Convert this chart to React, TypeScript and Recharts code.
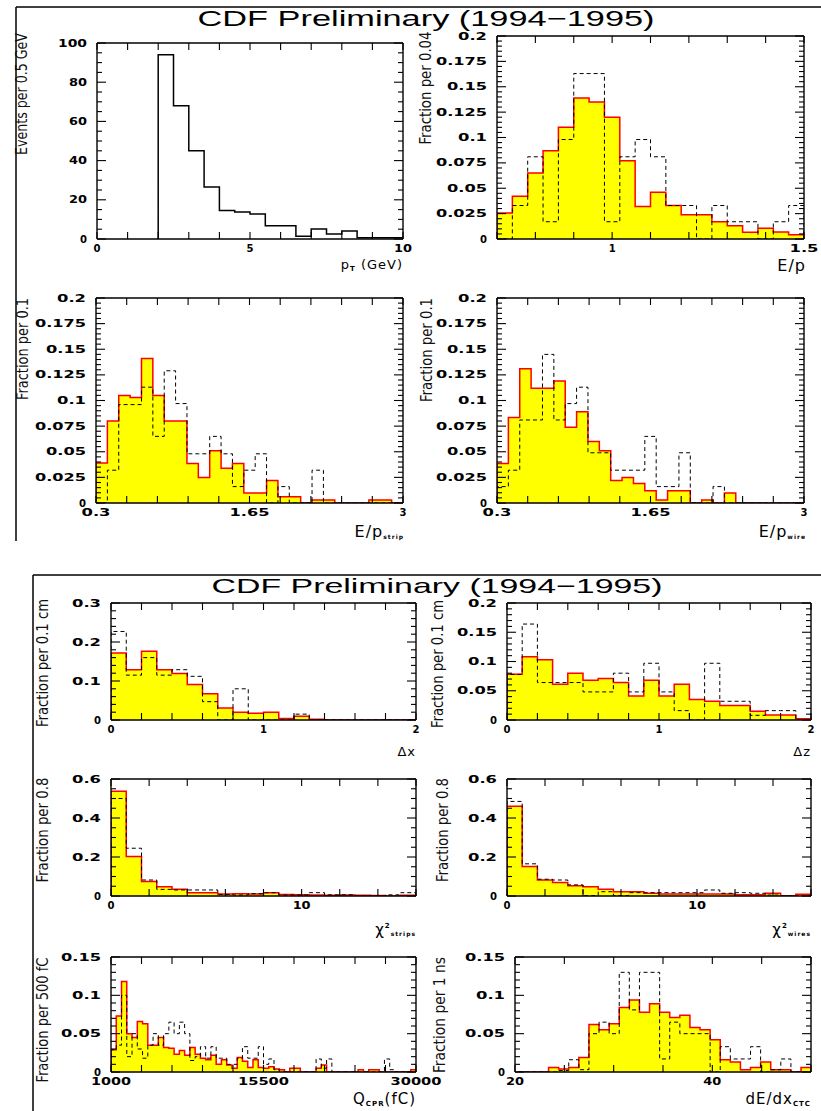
import React from "react";
import { ComposedChart, Area, Line, XAxis, YAxis } from "recharts";

// ---------------- data ----------------
// pT spectrum (events per 0.5 GeV)
const PT_START = 2;
const PT_BIN = 0.5;
const ptEvents = [94, 68, 45, 26.5, 14.6, 13.8, 12.8, 6.8, 6.8, 1.4, 5.1, 2.6, 4.1, 0.7, 0.7, 0.7];
const PT_X_TICKS = [0, 1, 2, 3, 4, 5, 6, 7, 8, 9, 10];
const PT_X_LABELS = ["0", "5", "10"];
const PT_Y_LABELS = ["0", "20", "40", "60", "80", "100"];

// E/p (fraction per 0.04)
const EP_START = 0.7;
const EP_BIN = 0.04;
const epFill = [0.0256, 0.042, 0.065, 0.087, 0.11, 0.139, 0.135, 0.12, 0.077, 0.032, 0.046, 0.033, 0.024, 0.024, 0.017, 0.013, 0.0066, 0.0105, 0.0069, 0.0043];
const epDash = [0, 0.033, 0.081, 0.017, 0.098, 0.163, 0.163, 0.017, 0.081, 0.098, 0.081, 0.033, 0.033, 0, 0.033, 0.017, 0.017, 0, 0.017, 0.033];
const EP_X_TICKS = [0.7, 0.8, 0.9, 1.0, 1.1, 1.2, 1.3, 1.4, 1.5];
const EP_X_LABELS = ["1", "1.5"];
const FRAC02_Y_LABELS = ["0", "0.025", "0.05", "0.075", "0.1", "0.125", "0.15", "0.175", "0.2"];

// E/p strip and wire (fraction per 0.1)
const EPS_START = 0.3;
const EPS_BIN = 0.1;
const stripFill = [0.039, 0.08, 0.105, 0.103, 0.141, 0.105, 0.08, 0.08, 0.0385, 0.025, 0.051, 0.034, 0.0385, 0.0098, 0.0098, 0.022, 0.006, 0.006, 0, 0.003, 0.003, 0, 0, 0, 0.003, 0.003, 0];
const stripDash = [0, 0.032, 0.096, 0.096, 0.113, 0.065, 0.129, 0.097, 0.048, 0.048, 0.065, 0.048, 0.016, 0.032, 0.048, 0, 0.016, 0, 0, 0.032, 0, 0, 0, 0, 0, 0, 0];
const wireFill = [0.0385, 0.0835, 0.131, 0.112, 0.112, 0.119, 0.074, 0.089, 0.06, 0.051, 0.022, 0.025, 0.019, 0.012, 0.003, 0.012, 0.012, 0, 0.003, 0, 0.0098, 0, 0, 0, 0, 0, 0];
const wireDash = [0.016, 0.032, 0.081, 0.081, 0.145, 0.081, 0.097, 0.113, 0.049, 0.049, 0.032, 0.032, 0.032, 0.065, 0.016, 0.016, 0.049, 0, 0, 0.016, 0, 0, 0, 0, 0, 0, 0];
const EPS_X_TICKS = [0.3, 0.57, 0.84, 1.11, 1.38, 1.65, 1.92, 2.19, 2.46, 2.73, 3];
const EPS_X_LABELS = ["0.3", "1.65", "3"];

// delta x / delta z (fraction per 0.1 cm)
const D_START = 0;
const D_BIN = 0.1;
const dxFill = [0.172, 0.129, 0.176, 0.129, 0.119, 0.091, 0.067, 0.031, 0.02, 0.017, 0.02, 0.004, 0.0095, 0.002, 0, 0, 0, 0, 0, 0];
const dxDash = [0.227, 0.115, 0.16, 0.115, 0.129, 0.112, 0.047, 0, 0.08, 0, 0, 0, 0.015, 0, 0, 0, 0, 0, 0, 0];
const dzFill = [0.078, 0.108, 0.103, 0.061, 0.08, 0.068, 0.071, 0.064, 0.041, 0.068, 0.041, 0.061, 0.035, 0.032, 0.025, 0.025, 0.015, 0.0086, 0.0086, 0.002];
const dzDash = [0.078, 0.164, 0.064, 0.064, 0.064, 0.048, 0.048, 0.08, 0.048, 0.097, 0.048, 0.016, 0, 0.097, 0.032, 0.032, 0.008, 0.016, 0.016, 0];
const D_X_TICKS = [0, 0.2, 0.4, 0.6, 0.8, 1, 1.2, 1.4, 1.6, 1.8, 2];
const D_X_LABELS = ["0", "1", "2"];
const DX_Y_LABELS = ["0", "0.1", "0.2", "0.3"];
const DZ_Y_LABELS = ["0", "0.05", "0.1", "0.15", "0.2"];

// chi2 strips / wires (fraction per 0.8)
const C_START = 0;
const C_BIN = 0.8;
const csFill = [0.537, 0.202, 0.074, 0.048, 0.034, 0.017, 0.017, 0.01, 0.012, 0.01, 0.017, 0.008, 0.007, 0.005, 0.004, 0.005, 0.004, 0.002, 0, 0.004];
const csDash = [0.5, 0.245, 0.082, 0.034, 0.031, 0.031, 0.031, 0.008, 0.005, 0.012, 0.017, 0.005, 0.005, 0.017, 0.006, 0.006, 0.001, 0, 0.006, 0.017];
const cwFill = [0.46, 0.151, 0.082, 0.069, 0.053, 0.048, 0.034, 0.022, 0.022, 0.014, 0.01, 0.01, 0.01, 0.01, 0.01, 0.007, 0.007, 0.014, 0.001, 0.009];
const cwDash = [0.485, 0.165, 0.086, 0.082, 0.057, 0.002, 0.022, 0.002, 0.017, 0.017, 0.017, 0.017, 0.017, 0.031, 0.014, 0.017, 0.014, 0.005, 0, 0];
const C_X_TICKS = [0, 2, 4, 6, 8, 10, 12, 14, 16];
const C_X_LABELS = ["0", "10"];
const C_Y_LABELS = ["0", "0.2", "0.4", "0.6"];

// Q_CPR (fraction per 500 fC)
const Q_START = 1000;
const Q_BIN = 500;
const qFill = [0.029, 0.073, 0.118, 0.05, 0.045, 0.066, 0.063, 0.035, 0.035, 0.045, 0.032, 0.031, 0.023, 0.028, 0.022, 0.032, 0.023, 0.018, 0.016, 0.022, 0.01, 0.016, 0.009, 0.005, 0.019, 0.014, 0.006, 0.016, 0.006, 0.005, 0.007, 0.004, 0.003, 0, 0.005, 0.005, 0, 0, 0, 0.005, 0.009, 0, 0, 0, 0, 0, 0, 0.003, 0, 0.003, 0.003, 0, 0, 0, 0, 0, 0, 0.003];
const qDash = [0.029, 0.035, 0.1, 0.02, 0.05, 0.03, 0.018, 0.035, 0.05, 0.035, 0.05, 0.065, 0.05, 0.065, 0.05, 0.015, 0.02, 0.033, 0.018, 0.033, 0.018, 0.018, 0.01, 0.01, 0.018, 0.033, 0.018, 0.018, 0.033, 0.01, 0.017, 0.003, 0, 0, 0, 0, 0, 0, 0, 0.017, 0.005, 0.017, 0, 0, 0, 0, 0, 0, 0, 0, 0, 0, 0.017, 0.003, 0, 0, 0, 0];
const Q_X_TICKS = [1000, 3900, 6800, 9700, 12600, 15500, 18400, 21300, 24200, 27100, 30000];
const Q_X_LABELS = ["1000", "15500", "30000"];
const Q_Y_LABELS = ["0", "0.05", "0.1", "0.15"];

// dE/dx CTC (fraction per 1 ns)
const DE_START = 20.33;
const DE_BIN = 1.0235;
const deFill = [0, 0, 0, 0.006, 0.004, 0.006, 0.019, 0.062, 0.055, 0.063, 0.084, 0.094, 0.078, 0.089, 0.078, 0.071, 0.074, 0.058, 0.055, 0.042, 0.016, 0.013, 0.003, 0.006, 0.013, 0.003, 0.003, 0, 0.006];
const deDash = [0, 0, 0, 0, 0.002, 0.016, 0.003, 0.05, 0.065, 0.05, 0.13, 0.081, 0.13, 0.13, 0.017, 0.065, 0.05, 0.05, 0.05, 0, 0.033, 0.017, 0.017, 0.033, 0, 0.003, 0.017, 0, 0];
const DE_X_TICKS = [20, 25, 30, 35, 40, 45, 50];
const DE_X_LABELS = ["20", "40"];

// ---------------- helpers ----------------
type Pt = { x: number; a: number; b: number };

function buildSteps(start: number, width: number, fill: number[], dash: number[] | null): Pt[] {
  const n = fill.length;
  const d = dash || fill.map(() => 0);
  const pts: Pt[] = [{ x: start, a: 0, b: 0 }];
  for (let i = 0; i < n; i++) pts.push({ x: start + i * width, a: fill[i], b: d[i] });
  pts.push({ x: start + n * width, a: fill[n - 1], b: d[n - 1] });
  pts.push({ x: start + n * width, a: 0, b: 0 });
  return pts;
}

function ticksFrom(domain: [number, number], step: number): number[] {
  const out: number[] = [];
  const n = Math.round((domain[1] - domain[0]) / step);
  for (let i = 0; i <= n; i++) out.push(Number((domain[0] + i * step).toFixed(6)));
  return out;
}

const near = (a: number, b: number) => Math.abs(a - b) < 1e-6 * Math.max(1, Math.abs(a), Math.abs(b));

const TICK_FONT = "DejaVu Sans";

function tickRenderer(side: string, majors: number[], labels: string[] | null, majorLen: number, minorLen: number) {
  return (p: any) => {
    const v = Number(p.payload && p.payload.value);
    const idx = majors.findIndex((m) => near(m, v));
    const len = idx >= 0 ? majorLen : minorLen;
    const x = p.x;
    const y = p.y;
    let x2 = x;
    let y2 = y;
    if (side === "bottom") y2 = y - len;
    if (side === "top") y2 = y + len;
    if (side === "left") x2 = x + len;
    if (side === "right") x2 = x - len;
    const label = labels && idx >= 0 ? labels[idx] : null;
    let text = null;
    if (label) {
      const tl = 11 * label.length - 4;
      if (side === "bottom") {
        text = (
          <text x={x} y={y + 13} textAnchor="middle" fontFamily={TICK_FONT} fontWeight={700} fontSize={10} fill="#000" textLength={tl} lengthAdjust="spacingAndGlyphs">
            {label}
          </text>
        );
      } else if (side === "left") {
        text = (
          <text x={x - 10} y={y + 3.6} textAnchor="end" fontFamily={TICK_FONT} fontWeight={700} fontSize={10} fill="#000" textLength={tl} lengthAdjust="spacingAndGlyphs">
            {label}
          </text>
        );
      }
    }
    return (
      <g>
        <line x1={x} y1={y} x2={x2} y2={y2} stroke="#000" strokeWidth={1.1} />
        {text}
      </g>
    );
  };
}

const AXIS_STYLE = { stroke: "#000", strokeWidth: 1.4 };

type HistProps = {
  L: number; T: number; R: number; B: number;
  xDomain: [number, number]; yDomain: [number, number];
  xTicks: number[]; xLabels: string[];
  yLabels: string[]; yMinor: number;
  data: Pt[]; filled: boolean;
};

function Hist(props: HistProps) {
  const { L, T, R, B, xDomain, yDomain, xTicks, xLabels, yLabels, yMinor, data, filled } = props;
  const mL = 70, mR = 30, mT = 6, mB = 22;
  const W = R - L + mL + mR + 2;
  const H = B - T + mT + mB + 2;
  const yMajors = yLabels.map(Number);
  const yTicks = ticksFrom(yDomain, yMinor);
  const xMajors = xLabels.map(Number);
  return (
    <div style={{ position: "absolute", left: L - mL - 1, top: T - mT - 1, width: W, height: H }}>
      <ComposedChart width={W} height={H} data={data} margin={{ top: mT, right: mR, bottom: mB, left: mL }}>
        {filled ? (
          <Area type="stepAfter" dataKey="a" stroke="#ff0000" strokeWidth={1.5} fill="#ffff00" fillOpacity={1} dot={false} activeDot={false} isAnimationActive={false} />
        ) : null}
        {filled ? (
          <Line type="stepAfter" dataKey="b" stroke="#000" strokeWidth={1} strokeDasharray="4 3" dot={false} activeDot={false} isAnimationActive={false} />
        ) : (
          <Line type="stepAfter" dataKey="a" stroke="#000" strokeWidth={1.5} dot={false} activeDot={false} isAnimationActive={false} />
        )}
        <XAxis dataKey="x" type="number" domain={xDomain} allowDataOverflow ticks={xTicks} interval={0} height={1} tickSize={0} tickMargin={0} tickLine={false} axisLine={AXIS_STYLE} tick={tickRenderer("bottom", xMajors, xLabels, 7, 7)} />
        <XAxis xAxisId="top" orientation="top" dataKey="x" type="number" domain={xDomain} allowDataOverflow ticks={xTicks} interval={0} height={1} tickSize={0} tickMargin={0} tickLine={false} axisLine={AXIS_STYLE} tick={tickRenderer("top", xMajors, null, 7, 7)} />
        <YAxis type="number" domain={yDomain} allowDataOverflow ticks={yTicks} interval={0} width={1} tickSize={0} tickMargin={0} tickLine={false} axisLine={AXIS_STYLE} tick={tickRenderer("left", yMajors, yLabels, 9, 5)} />
        <YAxis yAxisId="right" orientation="right" type="number" domain={yDomain} allowDataOverflow ticks={yTicks} interval={0} width={1} tickSize={0} tickMargin={0} tickLine={false} axisLine={AXIS_STYLE} tick={tickRenderer("right", yMajors, null, 9, 5)} />
      </ComposedChart>
    </div>
  );
}

function YTitle({ cx, cy, len, text }: { cx: number; cy: number; len: number; text: string }) {
  return (
    <text x={cx} y={cy} transform={`rotate(-90 ${cx} ${cy})`} textAnchor="middle" dominantBaseline="central" fontFamily="DejaVu Sans Condensed, DejaVu Sans" fontSize={15} fill="#111" textLength={len} lengthAdjust="spacingAndGlyphs">
      {text}
    </text>
  );
}

type Part = { t: string; size: number; dy: number; bold?: boolean };

function XTitle({ x, y, parts, size }: { x: number; y: number; parts: Part[]; size: number }) {
  return (
    <text x={x} y={y} textAnchor="end" fontFamily="DejaVu Sans" fontSize={size} fill="#000" letterSpacing={1}>
      {parts.map((p, i) => (
        <tspan key={i} fontSize={p.size} dy={p.dy} fontWeight={p.bold ? 700 : 400}>
          {p.t}
        </tspan>
      ))}
    </text>
  );
}

export default function App() {
  return (
    <div style={{ position: "absolute", left: 0, top: 0, width: 821, height: 1111, background: "#fff", overflow: "hidden" }}>
      <svg width={821} height={1111} style={{ position: "absolute", left: 0, top: 0 }}>
        {/* frames */}
        <line x1={16} y1={7} x2={821} y2={7} stroke="#000" strokeWidth={1.5} />
        <line x1={16} y1={7} x2={16} y2={541} stroke="#000" strokeWidth={1.5} />
        <line x1={33} y1={575} x2={821} y2={575} stroke="#000" strokeWidth={1.5} />
        <line x1={33} y1={575} x2={33} y2={1111} stroke="#000" strokeWidth={1.5} />
        {/* titles */}
        <text x={426} y={26} textAnchor="middle" fontFamily="Liberation Sans" fontSize={22} fill="#000" textLength={457} lengthAdjust="spacingAndGlyphs">
          CDF Preliminary (1994−1995)
        </text>
        <text x={437} y={593} textAnchor="middle" fontFamily="Liberation Sans" fontSize={21} fill="#000" textLength={451} lengthAdjust="spacingAndGlyphs">
          CDF Preliminary (1994−1995)
        </text>
        {/* y titles */}
        <YTitle cx={22} cy={94} len={122} text="Events per 0.5 GeV" />
        <YTitle cx={426} cy={88} len={113} text="Fraction per 0.04" />
        <YTitle cx={23} cy={349} len={102} text="Fraction per 0.1" />
        <YTitle cx={427} cy={350} len={104} text="Fraction per 0.1" />
        <YTitle cx={43} cy={663} len={128} text="Fraction per 0.1 cm" />
        <YTitle cx={438} cy={664} len={128} text="Fraction per 0.1 cm" />
        <YTitle cx={43} cy={830} len={105} text="Fraction per 0.8" />
        <YTitle cx={443} cy={830} len={104} text="Fraction per 0.8" />
        <YTitle cx={43} cy={1020} len={125} text="Fraction per 500 fC" />
        <YTitle cx={440} cy={1015} len={116} text="Fraction per 1 ns" />
        {/* x titles */}
        <XTitle x={403} y={269} size={13} parts={[{ t: "p", size: 13, dy: 0 }, { t: "T", size: 7, dy: 2, bold: true }, { t: " (GeV)", size: 13, dy: -2 }]} />
        <XTitle x={806} y={271} size={16} parts={[{ t: "E/p", size: 16, dy: 0 }]} />
        <XTitle x={404} y={537} size={16} parts={[{ t: "E/p", size: 16, dy: 0 }, { t: "strip", size: 6, dy: 2, bold: true }]} />
        <XTitle x={806} y={537} size={16} parts={[{ t: "E/p", size: 16, dy: 0 }, { t: "wire", size: 6, dy: 2, bold: true }]} />
        <XTitle x={416} y={756} size={13} parts={[{ t: "Δx", size: 13, dy: 0 }]} />
        <XTitle x={811} y={756} size={13} parts={[{ t: "Δz", size: 13, dy: 0 }]} />
        <XTitle x={416} y={935} size={15} parts={[{ t: "χ", size: 15, dy: 0 }, { t: "2", size: 7, dy: -7, bold: true }, { t: "strips", size: 6, dy: 8, bold: true }]} />
        <XTitle x={811} y={935} size={15} parts={[{ t: "χ", size: 15, dy: 0 }, { t: "2", size: 7, dy: -7, bold: true }, { t: "wires", size: 6, dy: 8, bold: true }]} />
        <XTitle x={416} y={1104} size={15} parts={[{ t: "Q", size: 15, dy: 0 }, { t: "CPR", size: 7, dy: 2, bold: true }, { t: "(fC)", size: 15, dy: -2 }]} />
        <XTitle x={811} y={1104} size={15} parts={[{ t: "dE/dx", size: 15, dy: 0 }, { t: "CTC", size: 7, dy: 2, bold: true }]} />
      </svg>

      <Hist L={97} T={43} R={403} B={239} xDomain={[0, 10]} yDomain={[0, 100]} xTicks={PT_X_TICKS} xLabels={PT_X_LABELS} yLabels={PT_Y_LABELS} yMinor={5} data={buildSteps(PT_START, PT_BIN, ptEvents, null)} filled={false} />
      <Hist L={497} T={36} R={804} B={239} xDomain={[0.7, 1.5]} yDomain={[0, 0.2]} xTicks={EP_X_TICKS} xLabels={EP_X_LABELS} yLabels={FRAC02_Y_LABELS} yMinor={0.005} data={buildSteps(EP_START, EP_BIN, epFill, epDash)} filled={true} />
      <Hist L={96} T={298} R={403} B={503} xDomain={[0.3, 3]} yDomain={[0, 0.2]} xTicks={EPS_X_TICKS} xLabels={EPS_X_LABELS} yLabels={FRAC02_Y_LABELS} yMinor={0.005} data={buildSteps(EPS_START, EPS_BIN, stripFill, stripDash)} filled={true} />
      <Hist L={497} T={298} R={804} B={503} xDomain={[0.3, 3]} yDomain={[0, 0.2]} xTicks={EPS_X_TICKS} xLabels={EPS_X_LABELS} yLabels={FRAC02_Y_LABELS} yMinor={0.005} data={buildSteps(EPS_START, EPS_BIN, wireFill, wireDash)} filled={true} />

      <Hist L={111} T={603} R={416} B={720} xDomain={[0, 2]} yDomain={[0, 0.3]} xTicks={D_X_TICKS} xLabels={D_X_LABELS} yLabels={DX_Y_LABELS} yMinor={0.02} data={buildSteps(D_START, D_BIN, dxFill, dxDash)} filled={true} />
      <Hist L={507} T={603} R={811} B={720} xDomain={[0, 2]} yDomain={[0, 0.2]} xTicks={D_X_TICKS} xLabels={D_X_LABELS} yLabels={DZ_Y_LABELS} yMinor={0.01} data={buildSteps(D_START, D_BIN, dzFill, dzDash)} filled={true} />
      <Hist L={111} T={779} R={416} B={896} xDomain={[0, 16]} yDomain={[0, 0.6]} xTicks={C_X_TICKS} xLabels={C_X_LABELS} yLabels={C_Y_LABELS} yMinor={0.05} data={buildSteps(C_START, C_BIN, csFill, csDash)} filled={true} />
      <Hist L={507} T={779} R={811} B={896} xDomain={[0, 16]} yDomain={[0, 0.6]} xTicks={C_X_TICKS} xLabels={C_X_LABELS} yLabels={C_Y_LABELS} yMinor={0.05} data={buildSteps(C_START, C_BIN, cwFill, cwDash)} filled={true} />
      <Hist L={111} T={957} R={416} B={1072} xDomain={[1000, 30000]} yDomain={[0, 0.15]} xTicks={Q_X_TICKS} xLabels={Q_X_LABELS} yLabels={Q_Y_LABELS} yMinor={0.01} data={buildSteps(Q_START, Q_BIN, qFill, qDash)} filled={true} />
      <Hist L={515} T={957} R={811} B={1072} xDomain={[20, 50]} yDomain={[0, 0.15]} xTicks={DE_X_TICKS} xLabels={DE_X_LABELS} yLabels={Q_Y_LABELS} yMinor={0.01} data={buildSteps(DE_START, DE_BIN, deFill, deDash)} filled={true} />
    </div>
  );
}
